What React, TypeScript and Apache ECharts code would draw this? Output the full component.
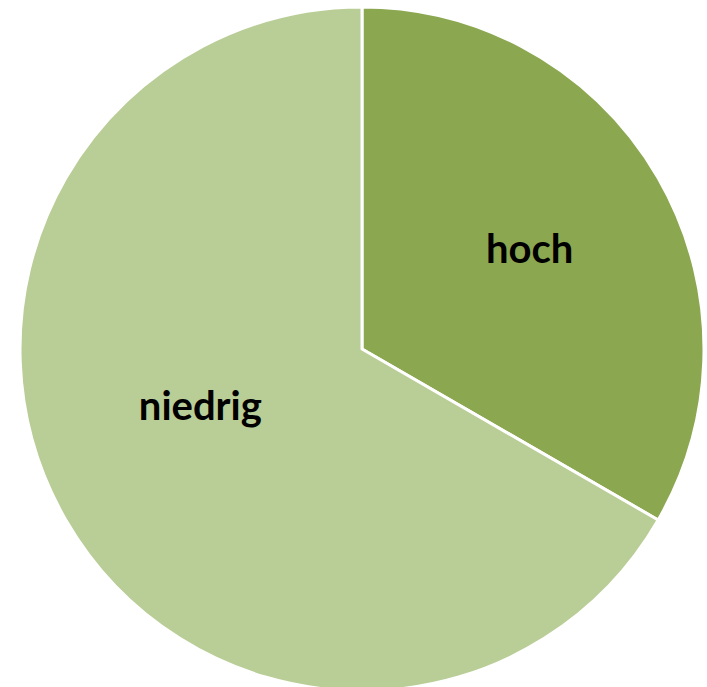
import React, { useEffect, useRef } from "react";
import * as echarts from "echarts";

const categories = ["hoch", "niedrig"];
const values = [1, 2];
const colors = ["#8BA750", "#B9CD96"];
const labelOffsets = [[17, -14], [-11, -31]];

export default function App() {
  const ref = useRef<HTMLDivElement>(null);
  useEffect(() => {
    document.body.style.margin = "0";
    const chart = echarts.init(ref.current!, null, { renderer: "svg" });
    chart.setOption({
      animation: false,
      backgroundColor: "#ffffff",
      series: [
        {
          type: "pie",
          center: [362, 349],
          radius: [0, 342],
          startAngle: 90,
          clockwise: true,
          data: categories.map((c, i) => ({
            name: c,
            value: values[i],
            itemStyle: { color: colors[i] },
            label: { offset: labelOffsets[i] },
          })),
          itemStyle: { borderColor: "#ffffff", borderWidth: 3 },
          label: {
            show: true,
            position: "inside",
            formatter: "{b}",
            color: "#000000",
            fontFamily: "Lato",
            fontWeight: "bold",
            fontSize: 40,
          },
          labelLine: { show: false },
          emphasis: { disabled: true },
        },
      ],
    });
    return () => chart.dispose();
  }, []);
  return (
    <div
      ref={ref}
      style={{ position: "absolute", left: 0, top: 0, width: 707, height: 687 }}
    />
  );
}
